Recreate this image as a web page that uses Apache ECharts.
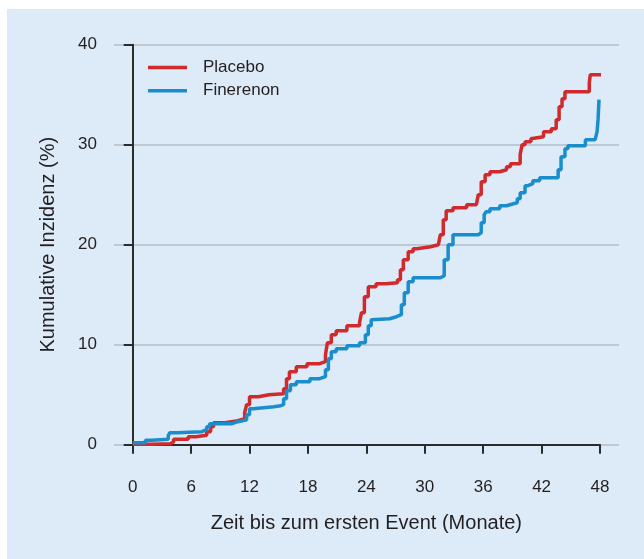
<!DOCTYPE html>
<html>
<head>
<meta charset="utf-8">
<title>Kumulative Inzidenz</title>
<script src="https://cdn.jsdelivr.net/npm/echarts@6/dist/echarts.min.js"></script>
<style>
    html, body {
        margin: 0;
        padding: 0;
        background: #ffffff;
    }

    .bg {
        position: absolute;
        left: 7px;
        top: 9px;
        width: 637px;
        height: 550px;
        background: #ddeaf7;
    }

    #main {
        position: absolute;
        left: 0;
        top: 0;
        width: 644px;
        height: 559px;
    }
</style>
</head>
<body>
<div class="bg"></div>
<div id="main"></div>

<script>
    var seriesNames = ['Placebo', 'Finerenon'];
    var xTicks = [0, 6, 12, 18, 24, 30, 36, 42, 48];
    var yTicks = [0, 10, 20, 30, 40];

    // [monat, inzidenz %]
    var placebo = [
        [0, 0.05], [2, 0.1], [3.9, 0.3], [4.2, 0.55], [5.7, 0.8], [6.5, 0.95], [7.6, 1.3], [8.0, 1.8],
        [8.3, 2.2], [9.5, 2.4], [10.8, 2.6], [11.5, 3.2], [11.7, 4.0], [12.0, 4.8], [12.9, 5.0], [14.0, 5.1],
        [15.5, 5.6], [15.8, 6.6], [16.1, 7.3], [16.8, 7.8], [17.9, 8.1], [19.2, 8.3], [19.8, 9.0], [20.0, 10.2],
        [20.4, 11.0], [20.9, 11.4], [22.0, 11.9], [23.3, 12.2], [23.5, 13.2], [23.8, 14.8], [24.2, 15.8],
        [25.0, 16.1], [26.0, 16.2], [27.2, 16.5], [27.5, 17.5], [27.8, 18.5], [28.3, 19.3], [28.8, 19.6],
        [29.2, 19.8], [30.6, 20.0], [31.4, 20.2], [31.6, 21.0], [31.9, 22.5], [32.2, 23.4], [32.9, 23.7],
        [34.3, 24.0], [35.3, 24.2], [35.5, 25.0], [35.8, 26.3], [36.2, 27.0], [36.7, 27.3], [37.7, 27.5],
        [38.4, 27.8], [38.8, 28.1], [39.8, 29.0], [40.0, 30.0], [40.3, 30.3], [40.9, 30.6], [41.1, 30.8],
        [42.2, 31.3], [43.0, 31.6], [43.5, 32.5], [43.8, 33.8], [44.1, 34.6], [44.4, 35.3], [46.9, 36.2],
        [47.0, 37.0], [48.1, 37.0]
    ];

    var finerenon = [
        [0, 0.2], [1.3, 0.45], [2.0, 0.55], [3.65, 0.9], [3.8, 1.2], [4.6, 1.3], [7.1, 1.5], [7.6, 1.8],
        [7.9, 2.1], [10.2, 2.3], [10.8, 2.5], [11.7, 3.0], [12.0, 3.6], [12.4, 3.8], [14.5, 3.9], [15.2, 4.0],
        [15.5, 4.6], [15.8, 5.4], [16.2, 6.0], [16.8, 6.3], [18.2, 6.6], [19.2, 6.8], [19.8, 7.5], [20.1, 8.6],
        [20.4, 9.3], [20.9, 9.6], [22.0, 9.9], [23.3, 10.2], [23.9, 11.0], [24.2, 11.9], [24.5, 12.5],
        [24.7, 12.6], [26.4, 12.8], [27.1, 13.0], [27.6, 14.0], [27.9, 15.2], [28.3, 16.3], [28.8, 16.7],
        [31.6, 16.9], [32.0, 18.5], [32.4, 20.0], [32.9, 21.0], [35.5, 21.2], [35.8, 22.2], [36.1, 23.0],
        [36.3, 23.3], [36.7, 23.6], [37.7, 23.9], [38.4, 24.1], [39.1, 24.2], [39.5, 24.6], [39.8, 25.2],
        [40.3, 25.9], [40.6, 26.1], [41.1, 26.4], [41.8, 26.7], [43.7, 27.5], [44.0, 28.8], [44.4, 29.6],
        [44.7, 29.9], [46.5, 30.5], [47.5, 30.7], [47.7, 31.3], [47.8, 32.5], [47.9, 34.5]
    ];

    var font = '"Liberation Sans Narrow", "Arial Narrow", "Liberation Sans", Arial, sans-serif';
    var textColor = '#231f20';
    var axisColor = '#2b2b2b';

    var myChart = echarts.init(document.getElementById('main'));

    var option = {
        backgroundColor: 'transparent',
        animation: false,
        textStyle: {fontFamily: font, color: textColor},
        legend: {
            data: seriesNames,
            orient: 'vertical',
            left: 148,
            top: 58,
            padding: 0,
            icon: 'rect',
            itemWidth: 39,
            itemHeight: 3.5,
            itemGap: 4.3,
            textStyle: {
                fontFamily: font,
                fontSize: 17,
                color: textColor,
                lineHeight: 19,
                padding: [0, 0, 0, 11]
            }
        },
        grid: [
            // nur Gitterlinien
            {left: 114, right: 25, top: 44.7, bottom: 114.3},
            // Daten
            {left: 132.7, right: 44, top: 44.7, bottom: 114.3}
        ],
        xAxis: [
            {gridIndex: 0, type: 'value', show: false, min: 0, max: 1},
            {
                gridIndex: 1,
                type: 'value',
                min: xTicks[0],
                max: xTicks[xTicks.length - 1],
                interval: 6,
                offset: 15.3,
                name: 'Zeit bis zum ersten Event (Monate)',
                nameLocation: 'middle',
                nameGap: 53,
                nameTextStyle: {fontFamily: font, fontSize: 20, color: textColor},
                axisLine: {show: true, lineStyle: {color: axisColor, width: 2}},
                axisTick: {show: true, length: 9, lineStyle: {color: axisColor, width: 2}},
                axisLabel: {margin: 19, fontSize: 17, fontFamily: font, color: textColor},
                splitLine: {show: false}
            }
        ],
        yAxis: [
            {
                gridIndex: 0,
                type: 'value',
                min: yTicks[0],
                max: yTicks[yTicks.length - 1],
                interval: 10,
                axisLine: {show: false},
                axisTick: {show: false},
                axisLabel: {show: false},
                splitLine: {show: true, lineStyle: {color: '#b3bec9', width: 1.5}}
            },
            {
                gridIndex: 1,
                type: 'value',
                min: yTicks[0],
                max: yTicks[yTicks.length - 1],
                interval: 10,
                offset: 18.7,
                name: 'Kumulative Inzidenz (%)',
                nameLocation: 'middle',
                nameGap: 56,
                nameTextStyle: {fontFamily: font, fontSize: 20, color: textColor},
                axisLine: {show: true, lineStyle: {color: axisColor, width: 2}},
                axisTick: {show: true, length: 9, lineStyle: {color: axisColor, width: 2}},
                axisLabel: {margin: 17, fontSize: 17, fontFamily: font, color: textColor},
                splitLine: {show: false}
            }
        ],
        series: [
            {
                name: 'Placebo',
                type: 'line',
                xAxisIndex: 1,
                yAxisIndex: 1,
                step: 'end',
                showSymbol: false,
                clip: false,
                color: '#d02a2c',
                lineStyle: {width: 3.5, color: '#d02a2c'},
                data: placebo
            },
            {
                name: 'Finerenon',
                type: 'line',
                xAxisIndex: 1,
                yAxisIndex: 1,
                step: 'end',
                showSymbol: false,
                clip: false,
                color: '#1a8dcd',
                lineStyle: {width: 3.5, color: '#1a8dcd'},
                data: finerenon
            }
        ]
    };

    myChart.setOption(option);
</script>
</body>
</html>
